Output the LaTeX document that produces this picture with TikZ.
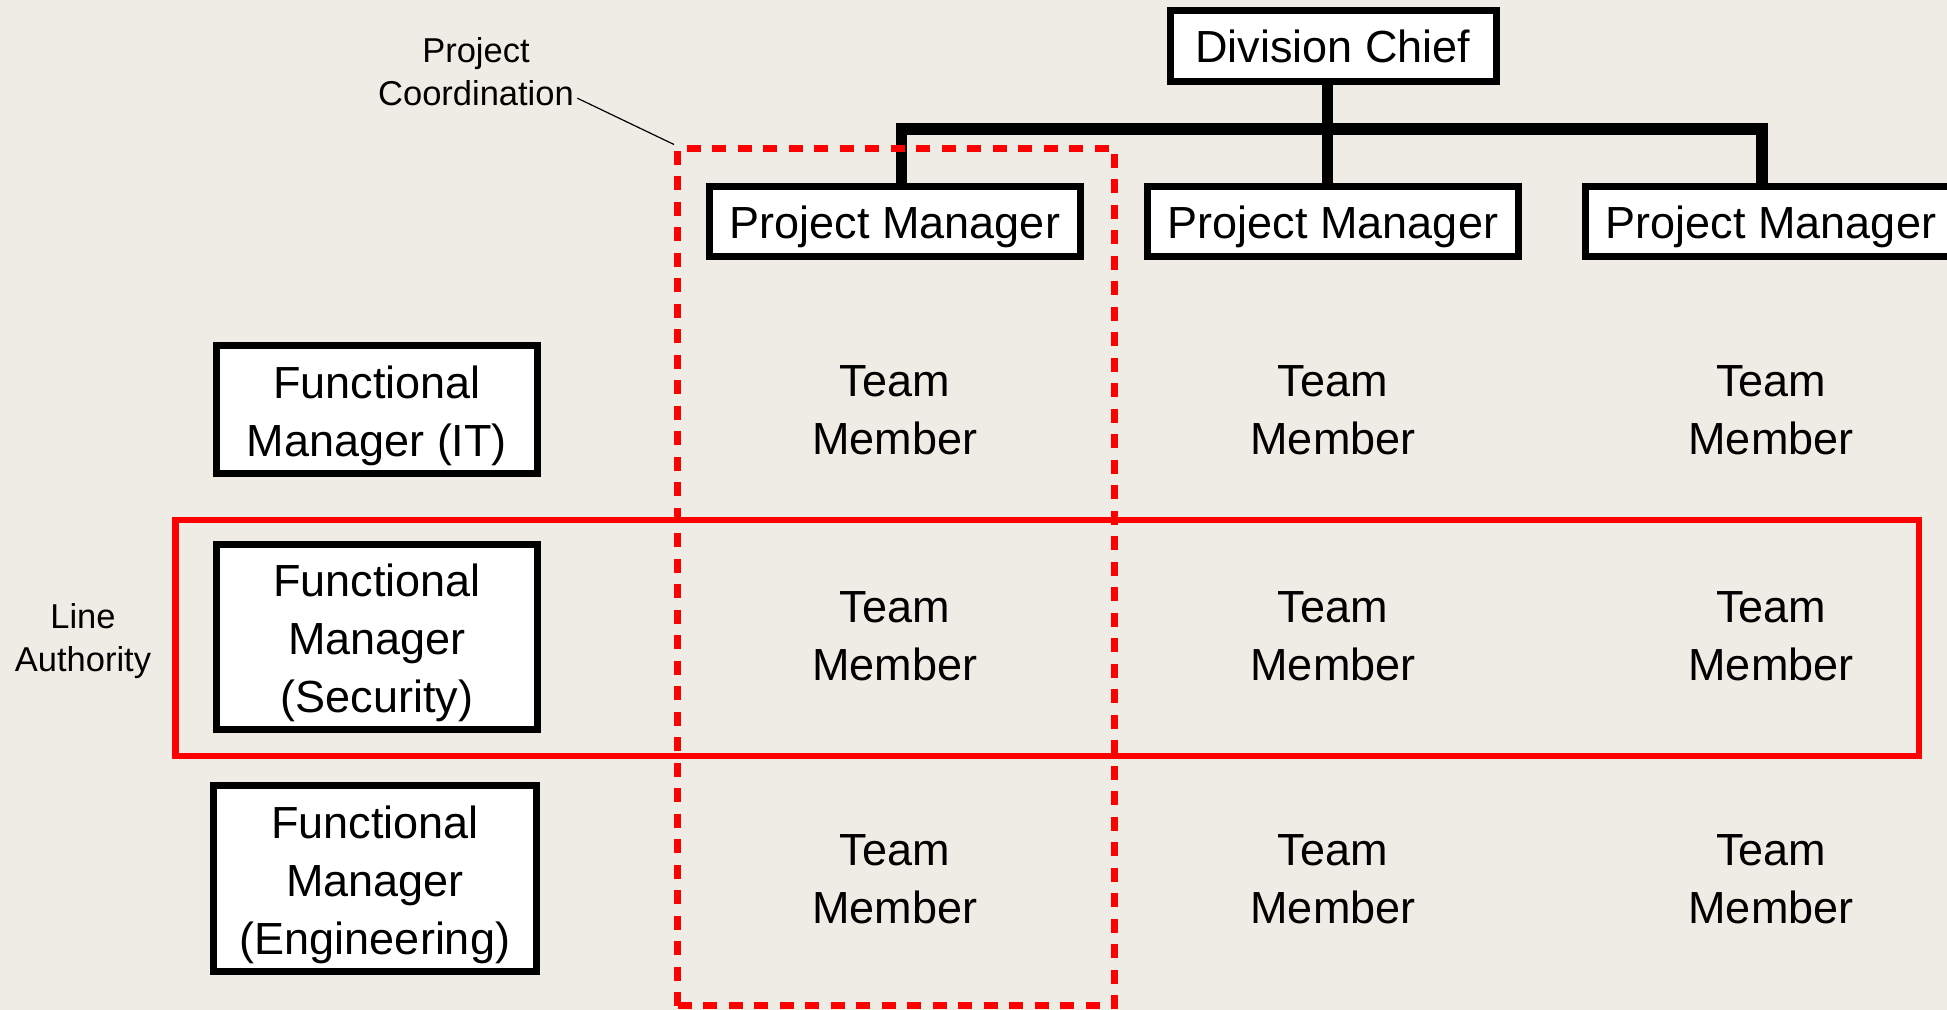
\documentclass[tikz,border=0pt]{standalone}
\usepackage{fontspec}
\setmainfont{Liberation Sans}
\usepackage{tikz}
\definecolor{slidebg}{RGB}{238,236,228}

\begin{document}
\begin{tikzpicture}[
	box/.style={draw=black, line width=7bp, fill=white, inner sep=0bp, align=center,
		font=\fontsize{45bp}{58bp}\selectfont},
	lowtext/.style={execute at begin node=\rule{0pt}{44bp}},
	member/.style={align=center, inner sep=0bp, font=\fontsize{45bp}{58bp}\selectfont},
	note/.style={align=center, font=\fontsize{34.5bp}{43bp}\selectfont},
	orgline/.style={line width=11.5bp},
	redframe/.style={draw=red, line width=6.5bp, inner sep=0bp}]

	\clip (0bp,0bp) rectangle (1947bp,-1010bp);
	\fill [slidebg] (0bp,0bp) rectangle (1947bp,-1010bp);

	\node (chief) at (1333bp,-46bp)  [box, minimum width=326bp, minimum height=71bp] {Division Chief};
	\node (pm1)   at (895bp,-221bp)  [box, lowtext, minimum width=371bp, minimum height=70bp] {Project Manager};
	\node (pm2)   at (1333bp,-221bp) [box, lowtext, minimum width=371bp, minimum height=70bp] {Project Manager};
	\node (pm3)   at (1771bp,-221bp) [box, lowtext, minimum width=371bp, minimum height=70bp] {Project Manager};
	\coordinate (bar) at (1328bp,-129bp);

	\node (fmit)  at (377bp,-409.5bp) [box, minimum width=321bp, minimum height=128bp] {\rule{0pt}{45bp}Functional\\Manager (IT)};
	\node (fmsec) at (377bp,-637bp)   [box, minimum width=321bp, minimum height=185bp] {\rule{0pt}{45bp}Functional\\Manager\\(Security)};
	\node (fmeng) at (375bp,-878.5bp) [box, minimum width=323bp, minimum height=186bp] {\rule{0pt}{45bp}Functional\\Manager\\(Engineering)};

	\node (tm11) at (895bp,-410bp)  [member] {Team\\Member};
	\node (tm12) at (1333bp,-410bp) [member] {Team\\Member};
	\node (tm13) at (1771bp,-410bp) [member] {Team\\Member};
	\node (tm21) at (895bp,-636bp)  [member] {Team\\Member};
	\node (tm22) at (1333bp,-636bp) [member] {Team\\Member};
	\node (tm23) at (1771bp,-636bp) [member] {Team\\Member};
	\node (tm31) at (895bp,-879bp)  [member] {Team\\Member};
	\node (tm32) at (1333bp,-879bp) [member] {Team\\Member};
	\node (tm33) at (1771bp,-879bp) [member] {Team\\Member};

	\draw [orgline] ([xshift=-5.5bp]chief.south) to ([xshift=-5.5bp]pm2.north);
	\draw [orgline] ([xshift=6.5bp]pm1.north) |- (bar) -| ([xshift=-9bp]pm3.north);

	% line authority and project coordination frames
	\node (lineauth) at (1047.25bp,-638bp) [redframe, minimum width=1743.5bp, minimum height=236bp] {};
	\node (projcol)  at (896bp,-576.75bp)  [redframe, line width=7bp, dash pattern=on 14bp off 11.5bp,
		minimum width=437bp, minimum height=857.5bp] {};

	\node (latext) at (83bp,-641bp)   [note] {Line\\Authority};
	\node (pctext) at (476bp,-71.5bp) [note] {Project\\Coordination};

	\draw [line width=1.2bp] ([yshift=11bp]pctext.south east) to (projcol.north west);
\end{tikzpicture}
\end{document}
